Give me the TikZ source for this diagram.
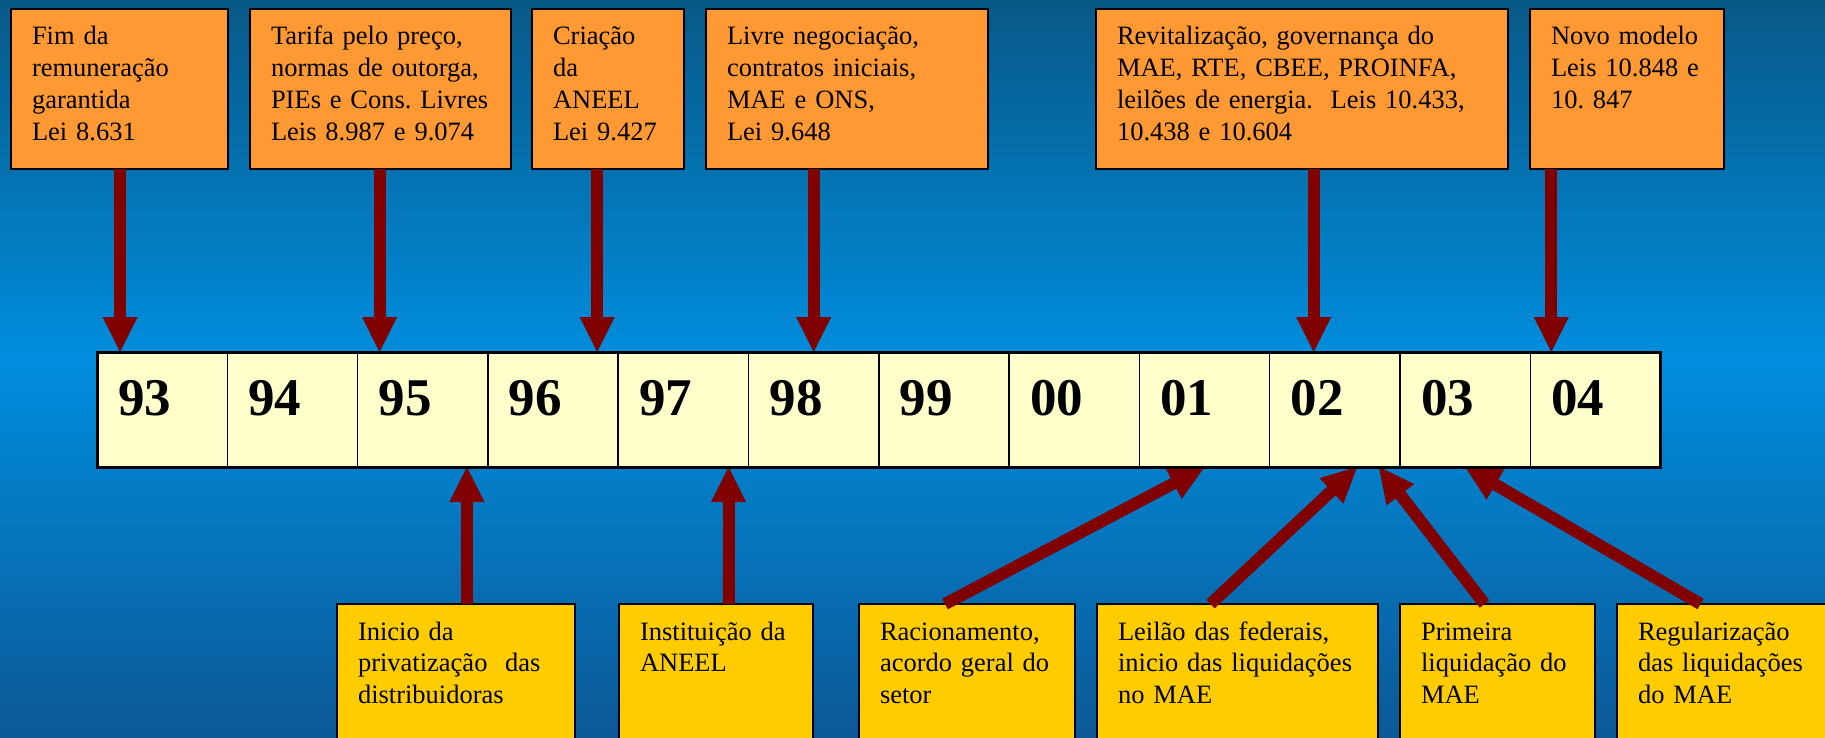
\documentclass[tikz,border=0pt]{standalone}
\usepackage{fontspec}
\setmainfont{Liberation Serif}
\usetikzlibrary{positioning, arrows.meta}
\frenchspacing

\definecolor{boxorange}{RGB}{255,153,51}
\definecolor{boxyellow}{RGB}{255,204,0}
\definecolor{cellyellow}{RGB}{255,255,204}
\definecolor{arrowred}{RGB}{128,0,0}
\definecolor{bgtop}{RGB}{8,88,135}
\definecolor{bgmid}{RGB}{0,142,222}
\definecolor{bgbot}{RGB}{12,88,150}

\begin{document}
\begin{tikzpicture}[x=1pt, y=-1pt]
\tikzstyle{event} = [rectangle, anchor=north west, draw=black, line width=2pt, fill=boxorange, align=left, inner xsep=21pt, inner ysep=0pt, outer sep=0pt, text height=36pt, text depth=124pt, font=\fontsize{26.5}{31.8}\selectfont]
\tikzstyle{fact} = [event, fill=boxyellow, text depth=140pt]
\tikzstyle{year} = [rectangle, anchor=north west, draw=black, line width=1.5pt, fill=cellyellow, align=left, text width=88.3pt, inner xsep=21pt, inner ysep=0pt, outer sep=0pt, text height=63pt, text depth=52pt, font=\fontsize{53}{60}\selectfont\bfseries]
\tikzstyle{link} = [draw=arrowred, line width=12pt, -{Triangle[length=35pt, width=35pt, line width=0pt]}]

\useasboundingbox (0,0) rectangle (1825,738);
\clip (0,0) rectangle (1825,738);
\shade [top color=bgtop, bottom color=bgmid] (0,0) rectangle (1825,360);
\shade [top color=bgmid, bottom color=bgbot] (0,359) rectangle (1825,738);

% laws above the timeline
\node (t1) [event, text width=175pt] at (11,9) {Fim da\\remuneração\\garantida\\Lei 8.631};
\node (t2) [event, text width=219pt, right=22pt of t1] {Tarifa pelo preço,\\normas de outorga,\\PIEs e Cons. Livres\\Leis 8.987 e 9.074};
\node (t3) [event, text width=110pt, right=21pt of t2] {Criação\\da\\ANEEL\\Lei 9.427};
\node (t4) [event, text width=240pt, right=22pt of t3] {Livre negociação,\\contratos iniciais,\\MAE e ONS,\\Lei 9.648};
\node (t5) [event, text width=370pt, right=108pt of t4] {Revitalização, governança do\\MAE, RTE, CBEE, PROINFA,\\leilões de energia.~ Leis 10.433,\\10.438 e 10.604};
\node (t6) [event, text width=152pt, right=22pt of t5] {Novo modelo\\Leis 10.848 e\\10. 847};

% facts below the timeline
\node (b1) [fact, text width=196pt] at (337,604) {Inicio da\\privatização~ das\\distribuidoras};
\node (b2) [fact, text width=152pt, right=44pt of b1] {Instituição da\\ANEEL};
\node (b3) [fact, text width=174pt, right=46pt of b2] {Racionamento,\\acordo geral do\\setor};
\node (b4) [fact, text width=239pt, right=22pt of b3] {Leilão das federais,\\inicio das liquidações\\no MAE};
\node (b5) [fact, text width=153pt, right=22pt of b4] {Primeira\\liquidação do\\MAE};
\node (b6) [fact, text width=171pt, right=22pt of b5] {Regularização\\das liquidações\\do MAE};

% timeline
\node (c93) [year] at (97,352) {93};
\node (c94) [year, right=0pt of c93] {94};
\node (c95) [year, right=0pt of c94] {95};
\node (c96) [year, right=0pt of c95] {96};
\node (c97) [year, right=0pt of c96] {97};
\node (c98) [year, right=0pt of c97] {98};
\node (c99) [year, right=0pt of c98] {99};
\node (c00) [year, right=0pt of c99] {00};
\node (c01) [year, right=0pt of c00] {01};
\node (c02) [year, right=0pt of c01] {02};
\node (c03) [year, right=0pt of c02] {03};
\node (c04) [year, right=0pt of c03] {04};

\coordinate (a1) at ([xshift=23pt]c93.north west);
\coordinate (a2) at ([xshift=22pt]c95.north west);
\coordinate (a3) at ([xshift=-21pt]c96.north east);
\coordinate (a4) at (c98.north);
\coordinate (a5) at ([xshift=44pt]c02.north west);
\coordinate (a6) at ([xshift=21pt]c04.north west);
\coordinate (d1) at ([xshift=-21pt]c95.south east);
\coordinate (d2) at ([xshift=-20pt]c97.south east);
\coordinate (d3) at (c01.south);
\coordinate (d4) at ([xshift=-43pt]c02.south east);
\coordinate (d5) at ([xshift=-21pt]c02.south east);
\coordinate (d6) at (c03.south);

\draw [link] (t1.south -| a1) -- (a1);
\draw [link] (t2.south -| a2) -- (a2);
\draw [link] (t3.south -| a3) -- (a3);
\draw [link] (t4.south -| a4) -- (a4);
\draw [link] (t5.south -| a5) -- (a5);
\draw [link] (t6.south -| a6) -- (a6);

\draw [link] (b1.north -| d1) -- (d1);
\draw [link] (b2.north -| d2) -- (d2);
\draw [link] ([xshift=-22pt]b3.north) -- (d3);
\draw [link] ([xshift=-27pt]b4.north) -- (d4);
\draw [link] ([xshift=-13pt]b5.north) -- (d5);
\draw [link] ([xshift=-23pt]b6.north) -- (d6);

\draw [line width=3pt] (c93.north west) rectangle (c04.south east);

\end{tikzpicture}
\end{document}
